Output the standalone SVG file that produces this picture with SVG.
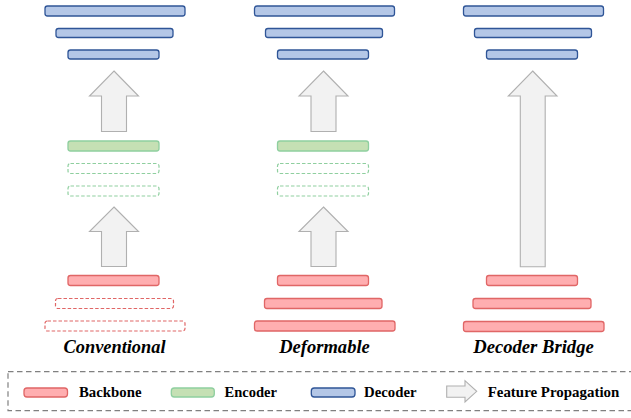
<svg xmlns="http://www.w3.org/2000/svg" width="631" height="418" viewBox="0 0 631 418">
<style>
.dec{fill:#b4c7e7;stroke:#2f5597;stroke-width:1.3}
.enc{fill:#c5e0b4;stroke:#8fcf9f;stroke-width:1.3}
.encd{fill:none;stroke:#8fcf9f;stroke-width:1.2;stroke-dasharray:3.5 2}
.bb{fill:#ffaeb0;stroke:#e06666;stroke-width:1.3}
.bbd{fill:none;stroke:#e06666;stroke-width:1.2;stroke-dasharray:3.5 2}
.arr{fill:#f2f2f2;stroke:#b0b0b0;stroke-width:1.1}
text{font-family:"Liberation Serif","DejaVu Serif","Times New Roman",Times,serif;fill:#000}
.lbl{font-weight:bold;font-style:italic;font-size:18.4px;text-anchor:middle}
.leg{font-weight:bold;font-size:15px}
</style>
<rect width="631" height="418" fill="#fff"/>
<g id="col-conventional">
  <g id="conv-decoder">
    <rect class="dec" x="45" y="6" width="140" height="10" rx="2.5"/>
    <rect class="dec" x="56" y="28.5" width="117" height="9" rx="2.5"/>
    <rect class="dec" x="68" y="50" width="91" height="9" rx="2.5"/>
  </g>
  <g id="conv-encoder">
    <rect class="enc" x="68" y="141" width="91" height="10" rx="2.5"/>
    <rect class="encd" x="68" y="163.5" width="91" height="10" rx="2.5"/>
    <rect class="encd" x="68" y="186" width="91" height="10" rx="2.5"/>
  </g>
  <g id="conv-backbone">
    <rect class="bb" x="68" y="275.5" width="91" height="10" rx="2.5"/>
    <rect class="bbd" x="55.5" y="298.5" width="118" height="10" rx="2.5"/>
    <rect class="bbd" x="45" y="321" width="140" height="10" rx="2.5"/>
  </g>
  <text class="lbl" x="114.5" y="353" textLength="102" lengthAdjust="spacingAndGlyphs">Conventional</text>
</g>
<g id="col-deformable" transform="translate(209.5,0)">
  <g id="def-decoder">
    <rect class="dec" x="45" y="6" width="140" height="10" rx="2.5"/>
    <rect class="dec" x="56" y="28.5" width="117" height="9" rx="2.5"/>
    <rect class="dec" x="68" y="50" width="91" height="9" rx="2.5"/>
  </g>
  <g id="def-encoder">
    <rect class="enc" x="68" y="141" width="91" height="10" rx="2.5"/>
    <rect class="encd" x="68" y="163.5" width="91" height="10" rx="2.5"/>
    <rect class="encd" x="68" y="186" width="91" height="10" rx="2.5"/>
  </g>
  <g id="def-backbone">
    <rect class="bb" x="68" y="275.5" width="91" height="10" rx="2.5"/>
    <rect class="bb" x="55" y="298.5" width="117.5" height="10" rx="2.5"/>
    <rect class="bb" x="45" y="321" width="140.5" height="10" rx="2.5"/>
  </g>
  <text class="lbl" x="115" y="353" textLength="90.5" lengthAdjust="spacingAndGlyphs">Deformable</text>
</g>
<g id="col-bridge" transform="translate(418.5,0)">
  <g id="br-decoder">
    <rect class="dec" x="45" y="6" width="140" height="10" rx="2.5"/>
    <rect class="dec" x="56" y="28.5" width="117" height="9" rx="2.5"/>
    <rect class="dec" x="68" y="50" width="91" height="9" rx="2.5"/>
  </g>
  <g id="br-backbone">
    <rect class="bb" x="68" y="275.5" width="91" height="10" rx="2.5"/>
    <rect class="bb" x="54.5" y="298.5" width="118" height="10" rx="2.5"/>
    <rect class="bb" x="45" y="321.5" width="140.5" height="10" rx="2.5"/>
  </g>
  <text class="lbl" x="115" y="353" textLength="120.5" lengthAdjust="spacingAndGlyphs">Decoder Bridge</text>
</g>
<g id="connectors">
  <polygon class="arr" points="114,71 138.5,96 126.5,96 126.5,131.5 101.5,131.5 101.5,96 89.5,96"/>
  <polygon class="arr" points="114,207 138.5,231.5 126.5,231.5 126.5,266.5 101.5,266.5 101.5,231.5 89.5,231.5"/>
  <g transform="translate(209.5,0)">
    <polygon class="arr" points="114,71 138.5,96 126.5,96 126.5,131.5 101.5,131.5 101.5,96 89.5,96"/>
    <polygon class="arr" points="114,207 138.5,231.5 126.5,231.5 126.5,266.5 101.5,266.5 101.5,231.5 89.5,231.5"/>
  </g>
  <polygon class="arr" points="532.7,71 557,96 545.2,96 545.2,266.7 520.3,266.7 520.3,96 508.3,96"/>
</g>
<g id="legend">
  <rect x="8" y="371.7" width="626" height="39" fill="none" stroke="#808080" stroke-width="1.2" stroke-dasharray="5.5 3.5"/>
  <rect class="bb" x="24" y="388" width="43.5" height="9" rx="3"/>
  <text class="leg" x="79" y="397" textLength="62.5" lengthAdjust="spacingAndGlyphs">Backbone</text>
  <rect class="enc" x="171.3" y="388" width="43" height="9" rx="3"/>
  <text class="leg" x="224.5" y="397" textLength="52.5" lengthAdjust="spacingAndGlyphs">Encoder</text>
  <rect class="dec" x="311.3" y="388" width="43.7" height="9" rx="3"/>
  <text class="leg" x="364" y="397" textLength="52.5" lengthAdjust="spacingAndGlyphs">Decoder</text>
  <polygon class="arr" points="446.7,386 465,386 465,380.7 476.7,391.3 465,402 465,397.3 446.7,397.3"/>
  <text class="leg" x="487.7" y="397" textLength="131.6" lengthAdjust="spacingAndGlyphs">Feature Propagation</text>
</g>
</svg>
